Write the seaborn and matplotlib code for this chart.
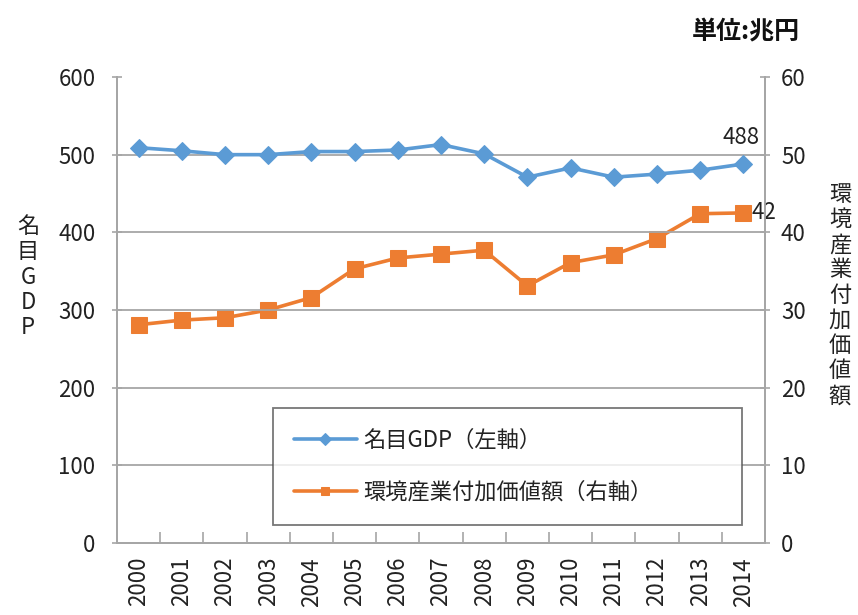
import matplotlib
matplotlib.use("Agg")
import matplotlib.pyplot as plt
import seaborn as sns
import pandas as pd
from matplotlib.ticker import FixedLocator

years = ["2000", "2001", "2002", "2003", "2004", "2005", "2006", "2007",
         "2008", "2009", "2010", "2011", "2012", "2013", "2014"]
gdp = [509, 505, 500, 500, 504, 504, 506, 513, 501, 471, 483, 471, 475, 480, 488]
env = [28.1, 28.7, 29.0, 30.0, 31.6, 35.3, 36.7, 37.2, 37.7, 33.1, 36.1, 37.1, 39.2, 42.4, 42.5]
gdp_label = "名目GDP（左軸）"
env_label = "環境産業付加価値額（右軸）"
left_ticks = [0, 100, 200, 300, 400, 500, 600]
right_ticks = [0, 10, 20, 30, 40, 50, 60]

sns.set_theme(style="white")
plt.rcParams["font.family"] = ["Noto Sans CJK JP", "DejaVu Sans"]

df = pd.DataFrame({"year": years, "gdp": gdp, "env": env})

fig = plt.figure(figsize=(8.58, 6.15), dpi=100)
ax = fig.add_axes([117/858, 1-543/615, (765-117)/858, (543-77)/615])
ax2 = ax.twinx()

blue = "#5B9BD5"
orange = "#ED7D31"
gridc = "#A6A6A6"
txt = "#222222"

sns.lineplot(data=df, x="year", y="gdp", ax=ax, color=blue, linewidth=2.6,
             marker="D", markersize=9, markeredgecolor=blue, label=gdp_label, legend=False)
sns.lineplot(data=df, x="year", y="env", ax=ax2, color=orange, linewidth=2.6,
             marker="s", markersize=11, markeredgecolor=orange, label=env_label, legend=False)

ax.set_xlim(-0.5, len(years) - 0.5)
ax.set_ylim(0, 600)
ax2.set_ylim(0, 60)
ax.set_yticks(left_ticks)
ax2.set_yticks(right_ticks)
ax.set_xticks(range(len(years)))
ax.set_xticklabels(years, rotation=90, fontsize=16, color=txt)
ax.tick_params(axis="x", which="major", bottom=True, length=0, pad=10)
ax.xaxis.set_minor_locator(FixedLocator([i + 0.5 for i in range(-1, len(years))]))
ax.tick_params(axis="x", which="minor", bottom=True, length=8, direction="in", color=gridc, width=1.2)
ax.tick_params(axis="y", left=True, labelsize=16, colors=txt, length=7, direction="inout", color=gridc, width=1.2, pad=12)
ax2.tick_params(axis="y", right=True, labelsize=16, colors=txt, length=7, direction="inout", color=gridc, width=1.2, pad=8)

for a in (ax, ax2):
    for s in a.spines.values():
        s.set_color(gridc)
        s.set_linewidth(1.3)
    a.spines["top"].set_visible(False)
    a.set_xlabel("")
    a.set_ylabel("")

for v in left_ticks[1:-1]:
    ax.axhline(v, color=gridc, linewidth=1.3, zorder=0)

ax.set_zorder(ax2.get_zorder() + 1)
ax.patch.set_visible(False)

# data labels
ax.annotate(f"{gdp[-1]}", (len(years) - 1, gdp[-1]), xytext=(-2, 11), textcoords="offset points",
            ha="center", va="bottom", fontsize=16, color=txt)
ax2.annotate(f"{int(env[-1])}", (len(years) - 1, env[-1]), xytext=(6, 0), textcoords="offset points",
             ha="left", va="center", fontsize=16, color=txt, annotation_clip=False)

# vertical axis titles
fig.text(28/858, 1-277/615, "\n".join("名目GDP"), ha="center", va="center",
         fontsize=16, color=txt, linespacing=1.12)
fig.text(840/858, 1-295/615, "\n".join("環境産業付加価値額"), ha="center", va="center",
         fontsize=16, color=txt, linespacing=1.12)
fig.text(800/858, 1-32/615, "単位:兆円", ha="right", va="center", fontsize=18,
         color="#111111", fontweight="bold")

h1, l1 = ax.get_legend_handles_labels()
h2, l2 = ax2.get_legend_handles_labels()
leg = ax.legend(h1 + h2, l1 + l2, loc="lower left", bbox_to_anchor=(0.241, 0.039, 0.724, 0.25),
                mode="expand", borderaxespad=0, fontsize=16, frameon=True, fancybox=False,
                labelspacing=1.3, borderpad=0.95, handlelength=2.8, handletextpad=0.3)
leg.get_frame().set_edgecolor("#555555")
leg.get_frame().set_linewidth(1.3)
for line in leg.get_lines():
    line.set_markersize(6)
for t in leg.get_texts():
    t.set_color(txt)

fig.savefig("out.png", dpi=100)
